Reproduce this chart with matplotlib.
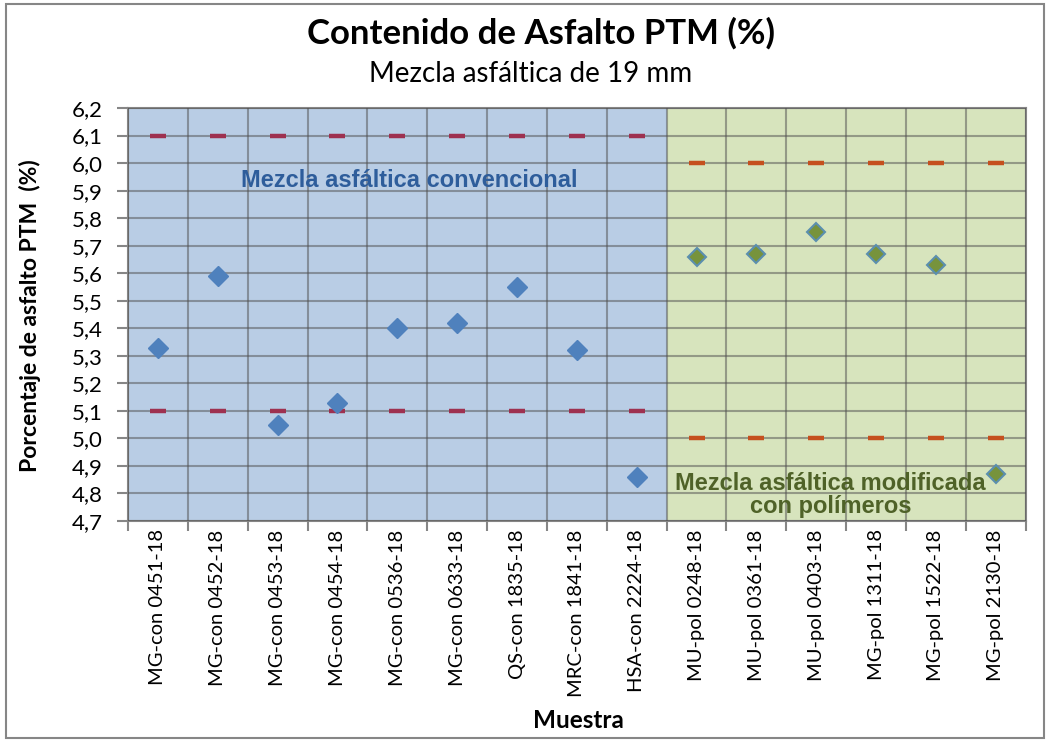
import numpy as np
import matplotlib.pyplot as plt
from matplotlib.patches import Rectangle
from matplotlib.ticker import FixedLocator, FuncFormatter

# data
muestras = ["MG-con 0451-18", "MG-con 0452-18", "MG-con 0453-18", "MG-con 0454-18",
            "MG-con 0536-18", "MG-con 0633-18", "QS-con 1835-18", "MRC-con 1841-18",
            "HSA-con 2224-18",
            "MU-pol 0248-18", "MU-pol 0361-18", "MU-pol 0403-18", "MG-pol 1311-18",
            "MG-pol 1522-18", "MG-pol 2130-18"]
contenido_con = [5.33, 5.59, 5.05, 5.13, 5.40, 5.42, 5.55, 5.32, 4.86]
contenido_pol = [5.66, 5.67, 5.75, 5.67, 5.63, 4.87]
lim_sup_con = [6.1] * 9
lim_inf_con = [5.1] * 9
lim_sup_pol = [6.0] * 6
lim_inf_pol = [5.0] * 6

plt.rcParams['font.family'] = ['Lato', 'DejaVu Sans']

n_con = len(contenido_con)
n = len(muestras)
x_con = np.arange(n_con)
x_pol = np.arange(n_con, n)

fig = plt.figure(figsize=(10.5, 7.4), dpi=100)
ax = fig.add_axes([0.1219, 0.296, 0.8550, 0.558])

# background zones
ax.axvspan(-0.5, n_con - 0.5, color='#B9CDE5', zorder=0, lw=0)
ax.axvspan(n_con - 0.5, n - 0.5, color='#D7E4BD', zorder=0, lw=0)

# limits
ax.plot(x_con, lim_sup_con, ls='none', marker='_', ms=11, mew=3.2, color='#9E3150', zorder=3)
ax.plot(x_con, lim_inf_con, ls='none', marker='_', ms=11, mew=3.2, color='#9E3150', zorder=3)
ax.plot(x_pol, lim_sup_pol, ls='none', marker='_', ms=11, mew=3.2, color='#C5501E', zorder=3)
ax.plot(x_pol, lim_inf_pol, ls='none', marker='_', ms=11, mew=3.2, color='#C5501E', zorder=3)

# values
ax.plot(x_con, contenido_con, ls='none', marker='D', ms=10, color='#4F81BD', zorder=4)
ax.plot(x_pol, contenido_pol, ls='none', marker='D', ms=9.5, mfc='#77933C', mec='#5B8FAF',
        mew=1.5, zorder=4)

ax.set_xlim(-0.5, n - 0.5)
ax.set_ylim(4.7, 6.2)

ax.set_yticks(np.round(np.arange(4.7, 6.21, 0.1), 1))
ax.yaxis.set_major_formatter(FuncFormatter(lambda v, p: f"{v:.1f}".replace('.', ',')))
ax.set_xticks(np.arange(n))
ax.set_xticklabels(muestras, rotation=90, fontsize=14.5)
ax.xaxis.set_minor_locator(FixedLocator(np.arange(-0.5, n, 1.0)))
ax.tick_params(axis='x', which='major', length=0, pad=6)
ax.tick_params(axis='x', which='minor', length=7, width=1.5, color='#868686')
ax.tick_params(axis='y', length=8, width=1.5, color='#868686', labelsize=16, pad=10)

ax.grid(True, axis='y', color='#505050', alpha=0.5, lw=1.5, zorder=1)
ax.grid(True, axis='x', which='minor', color='#505050', alpha=0.5, lw=1.5, zorder=1)
ax.set_axisbelow(False)
for s in ax.spines.values():
    s.set_color('#868686')
    s.set_linewidth(1.5)
    s.set_zorder(2)

ax.text(4.2, 5.935, "Mezcla asfáltica convencional", ha='center', va='center',
        fontsize=17, fontweight='bold', color='#2E5D9B', family=['Liberation Sans'], zorder=5)
ax.text(11.24, 4.795, "Mezcla asfáltica modificada\ncon polímeros", ha='center', va='center',
        fontsize=17, fontweight='bold', color='#4F6228', family=['Liberation Sans'],
        linespacing=1.0, zorder=5)

fig.text(0.029, 0.574, "Porcentaje de asfalto PTM  (%)", rotation=90, ha='center', va='center',
         fontsize=16.5, fontweight='bold')
fig.text(0.551, 0.027, "Muestra", ha='center', va='center', fontsize=17.5, fontweight='bold')

fig.text(0.515, 0.955, "Contenido de Asfalto PTM (%)", ha='center', va='center',
         fontsize=25, fontweight='bold')
fig.text(0.505, 0.900, "Mezcla asfáltica de 19 mm", ha='center', va='center', fontsize=20)

fig.patches.append(Rectangle((0.006, 0.003), 0.988, 0.992, transform=fig.transFigure,
                             fill=False, edgecolor='#868686', lw=1.5))

fig.savefig("out.png", dpi=100)
